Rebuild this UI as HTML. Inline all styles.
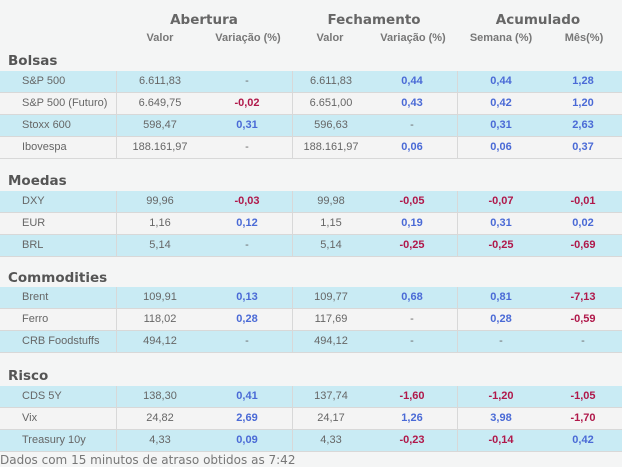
<!DOCTYPE html><html><head><meta charset="utf-8"><style>
body{margin:0;width:622px;height:467px;background:#f4f5f5;font-family:"Liberation Sans",sans-serif;position:relative;overflow:hidden}
.a{position:absolute}
.h1{font-family:"DejaVu Sans",sans-serif;font-weight:bold;font-size:13.5px;color:#666;text-align:center;width:160px;top:12px}
.h2{font-weight:bold;font-size:11px;color:#777;text-align:center;width:100px;top:32px}
.sec{font-family:"DejaVu Sans",sans-serif;font-weight:bold;font-size:13.5px;color:#555;left:8px}
.r{left:0;width:622px;height:22px;border-bottom:1px solid #d8d8d8;box-sizing:border-box;font-size:11px;color:#666;line-height:21px}
.c{background:#c9ebf4}.l{background:#f4f4f4}
.r span{position:absolute;text-align:center;width:90px}
.r .n{left:22px;text-align:left;width:95px}
.v{border-left:1px solid #d8d8d8;height:22px;top:0}
.b{color:#4a6ad6;font-weight:bold}.d{color:#b0184a;font-weight:bold}
</style></head><body>
<div class="a h1" style="left:124px">Abertura</div>
<div class="a h1" style="left:294px">Fechamento</div>
<div class="a h1" style="left:458px">Acumulado</div>
<div class="a h2" style="left:110px">Valor</div>
<div class="a h2" style="left:198px">Variação (%)</div>
<div class="a h2" style="left:280px">Valor</div>
<div class="a h2" style="left:363px">Variação (%)</div>
<div class="a h2" style="left:451px">Semana (%)</div>
<div class="a h2" style="left:534px">Mês(%)</div>
<div id="t"></div>
<div class="a" style="left:0;top:453px;font-family:'DejaVu Sans',sans-serif;font-size:12px;color:#777">Dados com 15 minutos de atraso obtidos as 7:42</div>
<script>
var S=[["Bolsas",53,71,[["S&P 500","6.611,83","-","6.611,83","0,44","0,44","1,28"],["S&P 500 (Futuro)","6.649,75","-0,02","6.651,00","0,43","0,42","1,20"],["Stoxx 600","598,47","0,31","596,63","-","0,31","2,63"],["Ibovespa","188.161,97","-","188.161,97","0,06","0,06","0,37"]]],
["Moedas",173,191,[["DXY","99,96","-0,03","99,98","-0,05","-0,07","-0,01"],["EUR","1,16","0,12","1,15","0,19","0,31","0,02"],["BRL","5,14","-","5,14","-0,25","-0,25","-0,69"]]],
["Commodities",270,287,[["Brent","109,91","0,13","109,77","0,68","0,81","-7,13"],["Ferro","118,02","0,28","117,69","-","0,28","-0,59"],["CRB Foodstuffs","494,12","-","494,12","-","-","-"]]],
["Risco",368,386,[["CDS 5Y","138,30","0,41","137,74","-1,60","-1,20","-1,05"],["Vix","24,82","2,69","24,17","1,26","3,98","-1,70"],["Treasury 10y","4,33","0,09","4,33","-0,23","-0,14","0,42"]]]];
var X=[160,247,331,412,501,583],h="";
S.forEach(function(s){h+='<div class="a sec" style="top:'+s[1]+'px">'+s[0]+'</div>';
s[3].forEach(function(r,i){h+='<div class="a r '+(i%2?'l':'c')+'" style="top:'+(s[2]+i*22)+'px"><span class="n">'+r[0].replace("&","&amp;")+'</span>';
for(var j=1;j<7;j++){var v=r[j],c="";if(j!=1&&j!=3&&v!="-")c=v[0]=="-"?"d":"b";h+='<span class="'+c+'" style="left:'+(X[j-1]-45)+'px">'+v+'</span>';}
h+='<div class="a v" style="left:116px"></div><div class="a v" style="left:292px"></div><div class="a v" style="left:457px"></div></div>';});});
document.getElementById("t").innerHTML=h;
</script></body></html>
